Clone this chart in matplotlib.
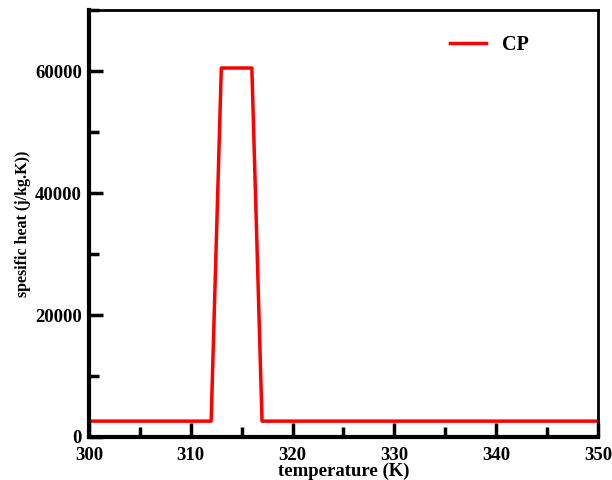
import matplotlib
matplotlib.use("Agg")
import matplotlib.pyplot as plt
from matplotlib.ticker import MultipleLocator

# Data
temperature = [300, 312, 313, 316, 317, 350]
cp = [2600, 2600, 60500, 60500, 2600, 2600]

plt.rcParams['font.family'] = ['Liberation Serif', 'DejaVu Serif']
plt.rcParams['font.weight'] = 'bold'

fig = plt.figure(figsize=(6.12, 4.8), dpi=100)
ax = fig.add_axes([0.1454, 0.0896, 0.8316, 0.8894])

ax.plot(temperature, cp, color='red', linewidth=2.5, label='CP')

ax.set_xlim(300, 350)
ax.set_ylim(0, 70000)
ax.xaxis.set_major_locator(MultipleLocator(10))
ax.xaxis.set_minor_locator(MultipleLocator(5))
ax.yaxis.set_major_locator(MultipleLocator(20000))
ax.yaxis.set_minor_locator(MultipleLocator(10000))

ax.tick_params(which='both', direction='in', top=False, right=False,
               width=2.5, labelsize=13.5)
ax.tick_params(which='major', length=10)
ax.tick_params(which='minor', length=7)
ax.tick_params(axis='x', which='major', pad=7)
ax.tick_params(axis='y', which='major', pad=5)
for lbl in ax.get_xticklabels() + ax.get_yticklabels():
    lbl.set_fontweight('bold')

for side in ['left', 'bottom']:
    ax.spines[side].set_linewidth(3)
for side in ['top', 'right']:
    ax.spines[side].set_linewidth(2)

ax.set_xlabel('temperature (K)', fontsize=13.5, fontweight='bold', labelpad=-1)
ax.set_ylabel('spesific heat (j/kg.K))', fontsize=11.5, fontweight='bold', labelpad=3)

ax.legend(loc='upper right', bbox_to_anchor=(0.9, 0.985), frameon=False,
          prop={'size': 14.5, 'weight': 'bold'}, handlelength=1.8, handletextpad=0.8)

fig.savefig('out.png', dpi=100)
